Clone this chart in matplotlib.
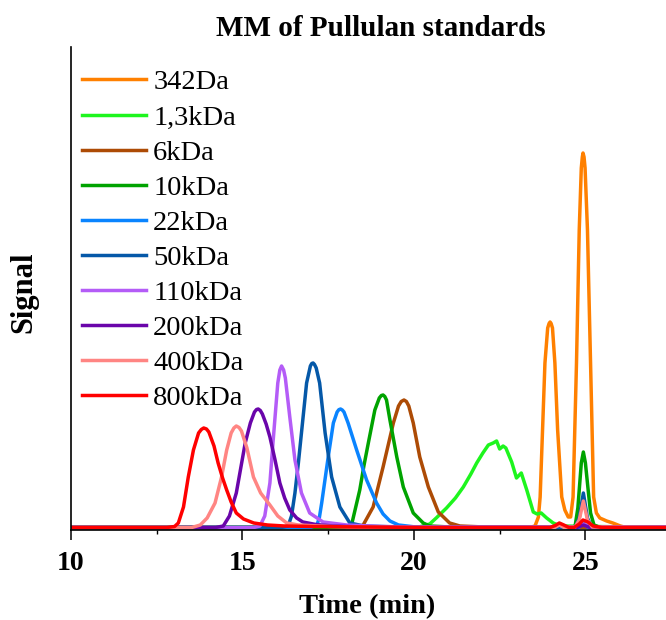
import matplotlib
matplotlib.use("Agg")
import matplotlib.pyplot as plt
from matplotlib.ticker import MultipleLocator

plt.rcParams['font.family'] = ['Liberation Serif', 'DejaVu Serif']

# series (time in min, signal in arbitrary units)
labels = ['342Da', '1,3kDa', '6kDa', '10kDa', '22kDa', '50kDa',
          '110kDa', '200kDa', '400kDa', '800kDa']
colors = ['#FF8000', '#1EF51E', '#AD4B05', '#00A300', '#0A84FF', '#0558A8',
          '#B45CF7', '#6A05AA', '#FF8583', '#FF0000']

t_342 = [10, 23.37, 23.53, 23.63, 23.68, 23.75, 23.82, 23.9, 23.94, 23.97, 24.0, 24.04,
         24.11, 24.19, 24.31, 24.4, 24.5, 24.57, 24.64, 24.74, 24.82, 24.88, 24.91, 24.93,
         24.96, 24.99, 25.06, 25.15, 25.24, 25.32, 25.42, 25.62, 25.8, 26.02, 26.19, 27.35]
s_342 = [0.5, 0.5, 2, 11, 31, 98, 165, 200, 204.5, 206, 204.5, 200,
         165, 98, 31, 18, 11, 11, 31, 165, 298, 360, 371, 375,
         371, 360, 298, 165, 31, 15, 10, 7, 5, 2, 0.5, 0.5]

t_1k3 = [10, 20.15, 20.46, 20.65, 20.95, 21.21, 21.44, 21.66, 21.83, 22.01, 22.17, 22.31,
         22.41, 22.5, 22.6, 22.68, 22.85, 22.99, 23.13, 23.29, 23.48, 23.59, 23.71, 23.87,
         24.06, 24.27, 27.35]
s_1k3 = [0.5, 1, 4, 10, 20, 30, 41, 54, 65, 75, 83, 85,
         87, 79, 82, 80, 66, 50, 55, 38, 16, 14, 15, 10,
         5, 2, 0.5]

t_6k = [10, 18.34, 18.52, 18.81, 19.1, 19.4, 19.55, 19.63, 19.71, 19.78, 19.85, 19.98,
        20.17, 20.42, 20.71, 21.04, 21.34, 22.06, 27.35]
s_6k = [0.5, 0.5, 3, 21, 61, 105, 122, 126.5, 128, 126.5, 122, 105,
        71, 41, 16, 5, 2, 1, 0.5]

t_10k = [10, 17.99, 18.18, 18.42, 18.54, 18.67, 18.86, 18.99, 19.05, 19.1, 19.15, 19.2,
         19.3, 19.5, 19.69, 19.98, 20.27, 20.46, 21.05, 24.6, 24.7, 24.78, 24.82, 24.88,
         24.94, 25.0, 25.08, 25.15, 25.25, 25.4, 27.35]
s_10k = [0.5, 0.5, 3, 38, 62, 85, 118, 130, 132.5, 133, 131.5, 128,
         108, 71, 41, 15, 5, 2, 1, 0.5, 2, 20, 38, 65,
         76, 65, 38, 15, 3, 1, 0.5]

t_22k = [10, 16.98, 17.17, 17.24, 17.31, 17.5, 17.65, 17.76, 17.81, 17.86, 17.91, 17.96,
         18.08, 18.33, 18.62, 18.91, 19.1, 19.3, 19.55, 20.05, 24.8, 24.94, 25.08, 27.35]
s_22k = [0.5, 0.5, 3, 10, 25, 71, 105, 116, 118.3, 119, 118, 116,
         105, 78, 48, 25, 14, 7, 3, 1, 0.5, 5, 0.5, 0.5]

t_50k = [10, 16.13, 16.33, 16.43, 16.53, 16.63, 16.72, 16.87, 16.98, 17.02, 17.06, 17.1,
         17.15, 17.25, 17.41, 17.6, 17.84, 18.13, 18.54, 20.05, 24.7, 24.82, 24.94, 25.06,
         25.18, 27.35]
s_50k = [0.5, 0.5, 2, 12, 35, 65, 95, 145, 162, 164.5, 165, 163.5,
         160, 145, 95, 51, 21, 5, 2, 0.5, 0.5, 10, 35, 10,
         1, 0.5]

t_110k = [10, 15.33, 15.51, 15.65, 15.8, 15.88, 15.95, 16.03, 16.09, 16.14, 16.2, 16.25,
          16.38, 16.53, 16.72, 16.96, 17.35, 18.04, 19.04, 20.05, 24.05, 24.24, 24.43, 24.75,
          24.94, 25.13, 27.35]
s_110k = [0.5, 0.5, 2, 12, 45, 81, 111, 145, 158, 162, 158, 150,
          111, 68, 35, 15, 6, 3, 1.5, 1, 1, 3, 1, 1,
          4, 1, 1]

t_200k = [10, 14.22, 14.44, 14.62, 14.82, 14.95, 15.08, 15.23, 15.35, 15.41, 15.46, 15.52,
          15.58, 15.69, 15.8, 15.95, 16.09, 16.23, 16.38, 16.58, 16.76, 17.14, 17.64, 18.54,
          20.05, 24.05, 24.24, 24.43, 24.75, 24.94, 25.13, 27.35]
s_200k = [0.5, 0.5, 2, 12, 35, 60, 85, 105, 116, 118.5, 119, 117.5,
          114, 104, 91, 68, 45, 30, 18, 10, 6, 3.5, 2, 1,
          0.5, 0.5, 4, 0.5, 0.5, 3, 0.5, 0.5]

t_400k = [10, 13.52, 13.77, 13.97, 14.2, 14.39, 14.54, 14.67, 14.75, 14.82, 14.9, 14.97,
          15.13, 15.32, 15.53, 15.8, 16.03, 16.29, 16.63, 17.24, 18.04, 20.05, 24.1, 24.24,
          24.38, 24.7, 24.82, 24.94, 25.06, 25.2, 27.35]
s_400k = [0.5, 0.5, 3, 10, 25, 51, 78, 95, 100, 102, 100.5, 97,
          80, 51, 35, 23, 12, 5, 3, 2, 1, 0.5, 0.5, 3,
          0.5, 1, 8, 27, 8, 1, 0.5]

t_800k = [10, 12.8, 13.02, 13.13, 13.28, 13.42, 13.57, 13.72, 13.8, 13.87, 13.95, 14.02,
          14.17, 14.29, 14.42, 14.54, 14.67, 14.82, 15.03, 15.33, 15.73, 16.23, 17.04, 18.54,
          20.05, 23.97, 24.12, 24.24, 24.37, 24.52, 24.67, 24.82, 24.93, 25.07, 25.23, 25.48,
          27.35]
s_800k = [0.5, 0.5, 1.5, 5, 21, 51, 78, 95, 98.5, 100, 99, 96,
          82, 65, 50, 38, 26, 15, 9, 5, 3, 2, 1.5, 1,
          0.5, 0.5, 2.5, 5, 3, 0.5, 0.5, 4, 8, 6, 2, 0.5,
          0.5]

times = [t_342, t_1k3, t_6k, t_10k, t_22k, t_50k, t_110k, t_200k, t_400k, t_800k]
signals = [s_342, s_1k3, s_6k, s_10k, s_22k, s_50k, s_110k, s_200k, s_400k, s_800k]

fig = plt.figure(figsize=(6.66, 6.2), dpi=100)
ax = fig.add_axes([71 / 666, 1 - 530 / 620, 1 - 71 / 666, 483 / 620])

for t, s, lab, c in zip(times, signals, labels, colors):
    ax.plot(t, s, color=c, lw=2.5, label=lab, solid_joinstyle='round')

ax.set_xlim(10, 27.35)
ax.set_ylim(-2, 481)
ax.xaxis.set_major_locator(MultipleLocator(5))
ax.xaxis.set_minor_locator(MultipleLocator(2.5))
ax.set_yticks([])
ax.spines['top'].set_visible(False)
ax.spines['right'].set_visible(False)
ax.spines['left'].set_linewidth(1.2)
ax.spines['bottom'].set_linewidth(1.2)
ax.tick_params(axis='x', which='major', length=7.2, width=1.1, pad=8, labelsize=20)
ax.tick_params(axis='x', which='minor', length=2.9, width=1.0)
for lbl in ax.get_xticklabels():
    lbl.set_fontweight('bold')

fig.text(381 / 666, 1 - 28 / 620, 'MM of Pullulan standards', ha='center', va='center',
         fontsize=21, fontweight='bold')
fig.text(367 / 666, 1 - 607 / 620, 'Time (min)', ha='center', va='center',
         fontsize=20.5, fontweight='bold')
fig.text(24 / 666, 1 - 292 / 620, 'Signal', ha='center', va='center', rotation=90,
         fontsize=22, fontweight='bold')

ax.legend(loc='upper left', bbox_to_anchor=(82 / 666, 1 - 69.5 / 620),
          bbox_transform=fig.transFigure, frameon=False, fontsize=20.5,
          handlelength=2.25, handletextpad=0.25, labelspacing=0.32,
          borderpad=0, borderaxespad=0)

fig.savefig('out.png', dpi=100)
